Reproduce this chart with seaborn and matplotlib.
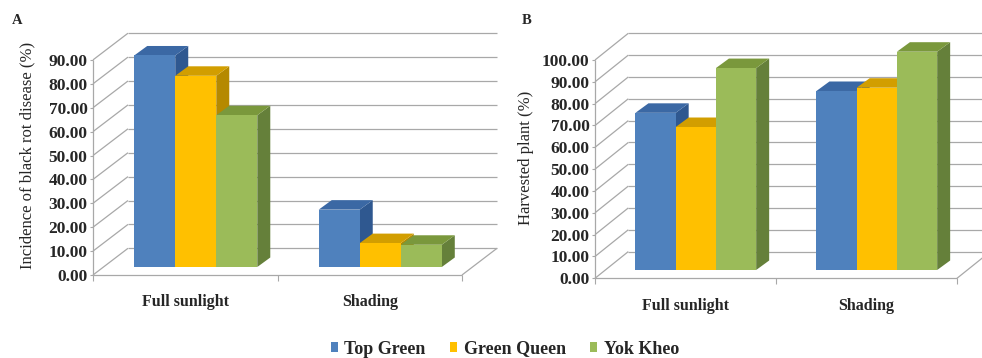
import numpy as np
import pandas as pd
import matplotlib
matplotlib.use("Agg")
import matplotlib.pyplot as plt
import seaborn as sns
from matplotlib.patches import Polygon, Patch
from matplotlib.transforms import Affine2D

# ---------------------------------------------------------------- data
conditions = ["Full sunlight", "Shading"]
cultivars = ["Top Green", "Green Queen", "Yok Kheo"]

incidence_top_green = [88.5, 24.0]
incidence_green_queen = [80.0, 10.0]
incidence_yok_kheo = [63.5, 9.3]

harvest_top_green = [72.0, 82.0]
harvest_green_queen = [65.5, 83.5]
harvest_yok_kheo = [92.5, 100.0]

incidence_ticks = [0, 10, 20, 30, 40, 50, 60, 70, 80, 90]
harvest_ticks = [0, 10, 20, 30, 40, 50, 60, 70, 80, 90, 100]

# ---------------------------------------------------------------- style
front_colors = ["#4f81bd", "#ffc000", "#9bbb59"]
top_colors = ["#3b68a4", "#d29e00", "#7a983c"]
side_colors = ["#2f5890", "#b58900", "#65803a"]
grid_color = "#a8a8a8"

sns.set_style("white")
plt.rcParams["font.family"] = ["Liberation Serif", "DejaVu Serif"]

DPI = 100
W, H = 982, 358
fig = plt.figure(figsize=(W / DPI, H / DPI), dpi=DPI)


def long_frame(tg, gq, yk):
    rows = []
    for name, vals in zip(cultivars, [tg, gq, yk]):
        for cond, v in zip(conditions, vals):
            rows.append({"condition": cond, "cultivar": name, "value": v})
    return pd.DataFrame(rows)


def add_axes_px(left, right, zero_y, px_per_unit, ymax):
    h = px_per_unit * ymax
    return fig.add_axes([left / W, (H - zero_y) / H, (right - left) / W, h / H])


def draw_panel(ax, data, ticks, ymax, ylabel, label_x, wall, shift, depth):
    sns.barplot(data=data, x="condition", y="value", hue="cultivar",
                order=conditions, hue_order=cultivars, palette=front_colors,
                saturation=1, width=0.667, errorbar=None, legend=False, ax=ax)
    ax.set_xlim(-0.5, 1.5)
    ax.set_ylim(0, ymax)
    for s in ax.spines.values():
        s.set_visible(False)

    bbox = ax.get_window_extent()
    ux = bbox.width / 2.0
    uy = bbox.height / ymax
    wdx, wdy = wall[0] / ux, wall[1] / uy
    sx, sy = shift[0] / ux, shift[1] / uy
    ddx, ddy = depth[0] / ux, depth[1] / uy

    line_kw = dict(color=grid_color, lw=0.9, clip_on=False, zorder=1,
                   solid_capstyle="butt")
    # side wall diagonals and back wall gridlines
    for t in ticks:
        ax.plot([-0.5, -0.5 + wdx], [t, t + wdy], **line_kw)
        ax.plot([-0.5 + wdx, 1.5 + wdx], [t + wdy, t + wdy], **line_kw)
    # front vertical axis and floor edges
    ax.plot([-0.5, -0.5], [0, ticks[-1]], **line_kw)
    ax.plot([-0.5, 1.5], [0, 0], **line_kw)
    ax.plot([1.5, 1.5 + wdx], [0, wdy], **line_kw)

    # 3-D bars: shift front faces into the floor and add top / side faces
    palette_rgb = [np.array(matplotlib.colors.to_rgb(c)) for c in front_colors]
    for bar in list(ax.patches):
        fc = np.array(bar.get_facecolor()[:3])
        k = int(np.argmin([np.sum((fc - p) ** 2) for p in palette_rgb]))
        x0 = bar.get_x() + sx
        x1 = x0 + bar.get_width()
        y0 = sy
        y1 = sy + bar.get_height()
        bar.set_transform(Affine2D().translate(sx, sy) + ax.transData)
        bar.set_linewidth(0)
        bar.set_edgecolor("none")
        bar.set_zorder(3 + k + 0.5)
        bar.set_clip_on(False)
        top = Polygon([(x0, y1), (x1, y1), (x1 + ddx, y1 + ddy), (x0 + ddx, y1 + ddy)],
                      closed=True, facecolor=top_colors[k], edgecolor="none",
                      zorder=3 + k + 0.2, clip_on=False)
        side = Polygon([(x1, y0), (x1, y1), (x1 + ddx, y1 + ddy), (x1 + ddx, y0 + ddy)],
                       closed=True, facecolor=side_colors[k], edgecolor="none",
                       zorder=3 + k + 0.2, clip_on=False)
        ax.add_patch(side)
        ax.add_patch(top)

    # axis ticks and labels
    ax.set_yticks(ticks, labels=[f"{t:.2f}" for t in ticks])
    ax.tick_params(axis="y", left=True, length=2.5, width=0.8, color=grid_color,
                   pad=1.5, labelsize=12.5)
    for lab in ax.get_yticklabels():
        lab.set_fontweight("bold")
    ax.set_xticks([0, 1], labels=conditions)
    ax.set_xticks([-0.5, 0.5, 1.5], minor=True)
    ax.tick_params(axis="x", which="major", length=0, pad=14, labelsize=11.5)
    ax.tick_params(axis="x", which="minor", bottom=True, length=4, width=0.8,
                   color=grid_color)
    for lab in ax.get_xticklabels():
        lab.set_fontweight("bold")
    ax.set_xlabel("")
    ax.set_ylabel(ylabel, fontsize=12, va="center")
    ax.yaxis.set_label_coords(label_x, 0.5)
    ax.grid(False)
    ax.set_facecolor("none")


# Panel A: incidence of black rot disease
ax_a = add_axes_px(93, 462, 275, 2.39, 100)
draw_panel(ax_a,
           long_frame(incidence_top_green, incidence_green_queen, incidence_yok_kheo),
           incidence_ticks, 100, "Incidence of black rot disease (%)",
           (27.7 - 93) / 369, wall=(35, 26.7), shift=(10.5, 8), depth=(13, 9.5))

# Panel B: harvested plants
ax_b = add_axes_px(595, 957, 278.3, 2.183, 110)
draw_panel(ax_b,
           long_frame(harvest_top_green, harvest_green_queen, harvest_yok_kheo),
           harvest_ticks, 110, "Harvested plant (%)",
           (525.5 - 595) / 362, wall=(33.3, 26.7), shift=(10.3, 8.3), depth=(13, 9.5))

fig.text(17.5 / W, 1 - 20.5 / H, "A", fontsize=10.5, fontweight="bold",
         ha="center", va="center")
fig.text(527 / W, 1 - 20 / H, "B", fontsize=10.5, fontweight="bold",
         ha="center", va="center")

handles = [Patch(facecolor=c, edgecolor="none") for c in front_colors]
fig.legend(handles, cultivars, loc="center", bbox_to_anchor=(505 / W, 1 - 349 / H),
           ncol=3, frameon=False, handlelength=0.4, handleheight=0.4,
           handletextpad=0.35, columnspacing=1.35, borderpad=0,
           prop={"weight": "bold", "size": 13})

fig.savefig("out.png", dpi=DPI, facecolor="white")
